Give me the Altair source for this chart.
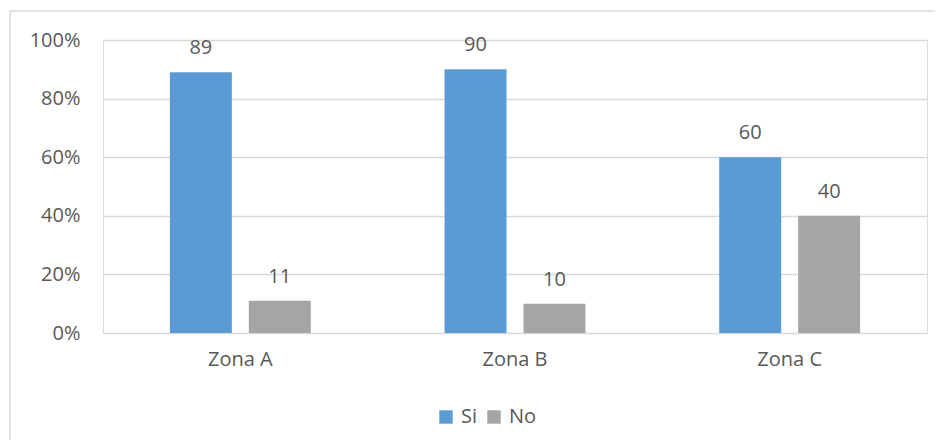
import altair as alt
import pandas as pd

zones = ["Zona A", "Zona B", "Zona C"]
series = ["Si", "No"]
si_values = [89, 90, 60]
no_values = [11, 10, 40]
colors = ["#5B9BD5", "#A5A5A5"]
y_ticks = [0, 20, 40, 60, 80, 100]

rows = []
for z, s, n in zip(zones, si_values, no_values):
    rows.append({"zona": z, "serie": "Si", "valor": s})
    rows.append({"zona": z, "serie": "No", "valor": n})
df = pd.DataFrame(rows)

FONT = "Open Sans"
TXT = "#595959"

x_enc = alt.X("zona:N", sort=zones, title=None,
              scale=alt.Scale(paddingInner=0.487, paddingOuter=0.2435),
              axis=alt.Axis(labelFontSize=20, labelColor=TXT, labelFont=FONT,
                            domain=False, ticks=False, tickSize=0, labelPadding=16,
                            labelAngle=0, grid=False))
xo_enc = alt.XOffset("serie:N", sort=series,
                     scale=alt.Scale(paddingInner=0.215, paddingOuter=0))
y_enc = alt.Y("valor:Q", title=None,
              scale=alt.Scale(domain=[0, 100], nice=False),
              axis=alt.Axis(values=y_ticks, labelExpr="datum.value + '%'",
                            labelFontSize=20, labelColor=TXT, labelFont=FONT,
                            domain=False, ticks=False, tickSize=0, labelPadding=23,
                            grid=True, gridColor="#D9D9D9", gridWidth=1.3))

base = alt.Chart(df)

bars = base.mark_bar().encode(
    x=x_enc,
    xOffset=xo_enc,
    y=y_enc,
    color=alt.Color("serie:N", sort=series,
                    scale=alt.Scale(domain=series, range=colors),
                    legend=alt.Legend(title=None, orient="none", direction="horizontal",
                                      legendX=333, legendY=367,
                                      symbolType="square", symbolSize=180,
                                      symbolStrokeWidth=0, labelFontSize=20,
                                      labelFont=FONT, labelColor=TXT,
                                      labelOffset=5, columnPadding=6)),
)

labels = base.mark_text(fontSize=20, font=FONT, color=TXT, baseline="alphabetic",
                        dy=-18).encode(
    x=alt.X("zona:N", sort=zones),
    xOffset=alt.XOffset("serie:N", sort=series),
    y="valor:Q",
    text=alt.Text("valor:Q"),
)

border = alt.Chart(alt.Data(values=[{}])).mark_rect(
    fill=None, stroke="#D9D9D9", strokeWidth=1.5
).encode(
    x=alt.value(-93), y=alt.value(-29), x2=alt.value(1200), y2=alt.value(1200)
)

chart = alt.layer(border, bars, labels).properties(
    width=824, height=293,
    autosize=alt.AutoSizeParams(type="none"),
    padding={"left": 95, "top": 32, "right": 8, "bottom": 107},
).configure_view(stroke=None).configure(font=FONT)

chart.save("out.html", embed_options={"renderer": "svg", "actions": False})
